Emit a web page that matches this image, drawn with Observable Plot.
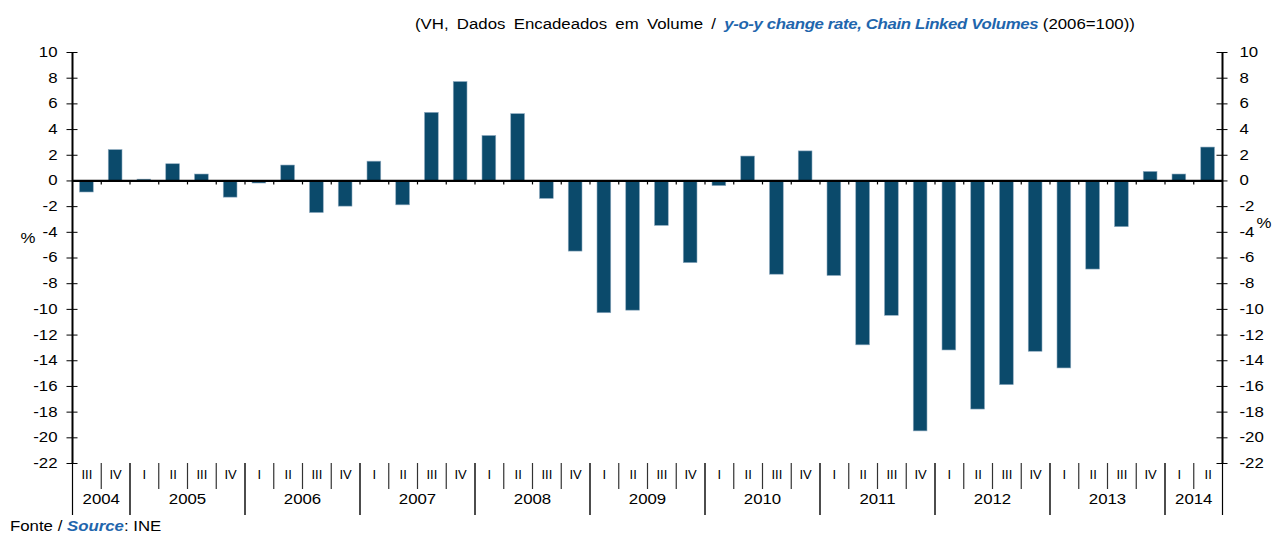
<!DOCTYPE html>
<html>
<head>
<meta charset="utf-8">
<script src="https://cdn.jsdelivr.net/npm/d3@7"></script>
<script src="https://cdn.jsdelivr.net/npm/@observablehq/plot@0.6"></script>
<style>
  html, body { margin: 0; padding: 0; background: #fff; }
  #wrap { position: relative; width: 1272px; height: 534px; overflow: hidden; font-family: "Liberation Sans", Arial, sans-serif; color: #000; }
  #title { position: absolute; left: 415px; top: 14px; font-size: 14px; line-height: 20px; white-space: nowrap; transform: scaleX(1.2); transform-origin: left center; }
  #title .pt { word-spacing: 3px; }
  #title .en { letter-spacing: -0.3px; }
  .en { color: #1f66ad; font-style: italic; font-weight: bold; }
  #chart { position: absolute; left: 0; top: 36px; }
  #source { position: absolute; left: 10px; top: 516px; font-size: 14px; line-height: 20px; white-space: nowrap; transform: scaleX(1.2); transform-origin: left center; }
</style>
</head>
<body>
<div id="wrap">
  <div id="title"><span class="pt">(VH, Dados Encadeados em Volume / </span><span class="en">y-o-y change rate, Chain Linked Volumes</span> (2006=100))</div>
  <div id="chart"></div>
  <div id="source">Fonte / <span class="en">Source</span>: INE</div>
</div>
<script>
// ---- data ----
const quarters = [
  "III","IV",
  "I","II","III","IV",
  "I","II","III","IV",
  "I","II","III","IV",
  "I","II","III","IV",
  "I","II","III","IV",
  "I","II","III","IV",
  "I","II","III","IV",
  "I","II","III","IV",
  "I","II","III","IV",
  "I","II"
];
const years = ["2004","2005","2006","2007","2008","2009","2010","2011","2012","2013","2014"];
const quartersPerYear = [2,4,4,4,4,4,4,4,4,4,2];
const values = [
  -0.9, 2.4,
  0.1, 1.3, 0.5, -1.3,
  -0.2, 1.2, -2.5, -2.0,
  1.5, -1.9, 5.3, 7.7,
  3.5, 5.2, -1.4, -5.5,
  -10.3, -10.1, -3.5, -6.4,
  -0.4, 1.9, -7.3, 2.3,
  -7.4, -12.8, -10.5, -19.5,
  -13.2, -17.8, -15.9, -13.3,
  -14.6, -6.9, -3.6, 0.7,
  0.5, 2.6
];
const yTicks = [10, 8, 6, 4, 2, 0, -2, -4, -6, -8, -10, -12, -14, -16, -18, -20, -22];

// ---- derived tables ----
const data = values.map((v, i) => ({i, q: quarters[i], v}));
const n = data.length;
let start = 0;
const yearData = years.map((y, k) => {
  const s = start; start += quartersPerYear[k];
  return {year: y, start: s, mid: s + quartersPerYear[k] / 2};
});
const yearBounds = yearData.map(d => d.start).filter(s => s > 0);
const quarterBounds = data.filter(d => d.i > 0 && d.q !== "I").map(d => d.i);
const innerBounds = data.filter(d => d.i > 0).map(d => d.i);
const yMin = yTicks[yTicks.length - 1], yMax = yTicks[0];
const fmt = d => String(d);

const chart = Plot.plot({
  width: 1272,
  height: 480,
  marginLeft: 72,
  marginRight: 50,
  marginTop: 16,
  marginBottom: 53,
  x: {domain: [0, n], axis: null, label: null},
  y: {domain: [yMin, yMax], axis: null, label: null},
  style: {fontFamily: "'Liberation Sans', Arial, sans-serif", fontSize: "14px", color: "#000", background: "#fff", overflow: "visible"},
  marks: [
    Plot.rect(data, {x1: "i", x2: d => d.i + 1, y1: 0, y2: "v", insetLeft: 7.5, insetRight: 7.5, fill: "#0b4a6b", stroke: "#8eaac0", strokeWidth: 0.6}),
    Plot.ruleY([0], {stroke: "#000", strokeWidth: 2.2}),
    Plot.ruleX(innerBounds, {y1: 0, y2: 0, insetBottom: -4, stroke: "#000", strokeWidth: 1.2}),
    // left / right axis lines
    Plot.ruleX([0, n], {y1: yMin, y2: yMax, stroke: "#000", strokeWidth: 2}),
    Plot.ruleX([0, n], {y1: yMin, y2: yMin, insetBottom: -52, stroke: "#000", strokeWidth: 1.2}),
    // y ticks crossing axes
    Plot.ruleY(yTicks, {x1: 0, x2: 0, insetLeft: -5.5, insetRight: -5.5, stroke: "#000", strokeWidth: 1}),
    Plot.ruleY(yTicks, {x1: n, x2: n, insetLeft: -5.5, insetRight: -5.5, stroke: "#000", strokeWidth: 1}),
    Plot.axisY(yTicks, {anchor: "left", tickSize: 0, tickPadding: 15, fontSize: 14, label: null, tickFormat: fmt}),
    Plot.axisY(yTicks, {anchor: "right", tickSize: 0, tickPadding: 17, fontSize: 14, label: null, tickFormat: fmt}),
    // category axis below
    Plot.ruleX(quarterBounds, {y1: yMin, y2: yMin, insetBottom: -26, stroke: "#333", strokeWidth: 1.2}),
    Plot.ruleX(yearBounds, {y1: yMin, y2: yMin, insetBottom: -52, stroke: "#000", strokeWidth: 1.4}),
    Plot.text(data, {x: d => d.i + 0.5, frameAnchor: "bottom", dy: 15, text: "q", fontSize: 13, className: "qlab"}),
    Plot.text(yearData, {x: "mid", frameAnchor: "bottom", dy: 40, text: "year", fontSize: 14}),
    // % labels
    Plot.text(["%"], {frameAnchor: "left", y: -4.5, dx: -52, text: d => d, fontSize: 14}),
    Plot.text(["%"], {frameAnchor: "right", y: -3.3, dx: 49, text: d => d, fontSize: 14})
  ]
});
document.getElementById("chart").appendChild(chart);

// widen glyphs horizontally like the reference rendering (not the thin roman numerals)
const S = 1.2;
chart.querySelectorAll("text").forEach(t => {
  if (t.closest(".qlab")) return;
  const len = t.getComputedTextLength();
  if (len > 0) {
    t.setAttribute("textLength", (len * S).toFixed(2));
    t.setAttribute("lengthAdjust", "spacingAndGlyphs");
  }
});
</script>
</body>
</html>
